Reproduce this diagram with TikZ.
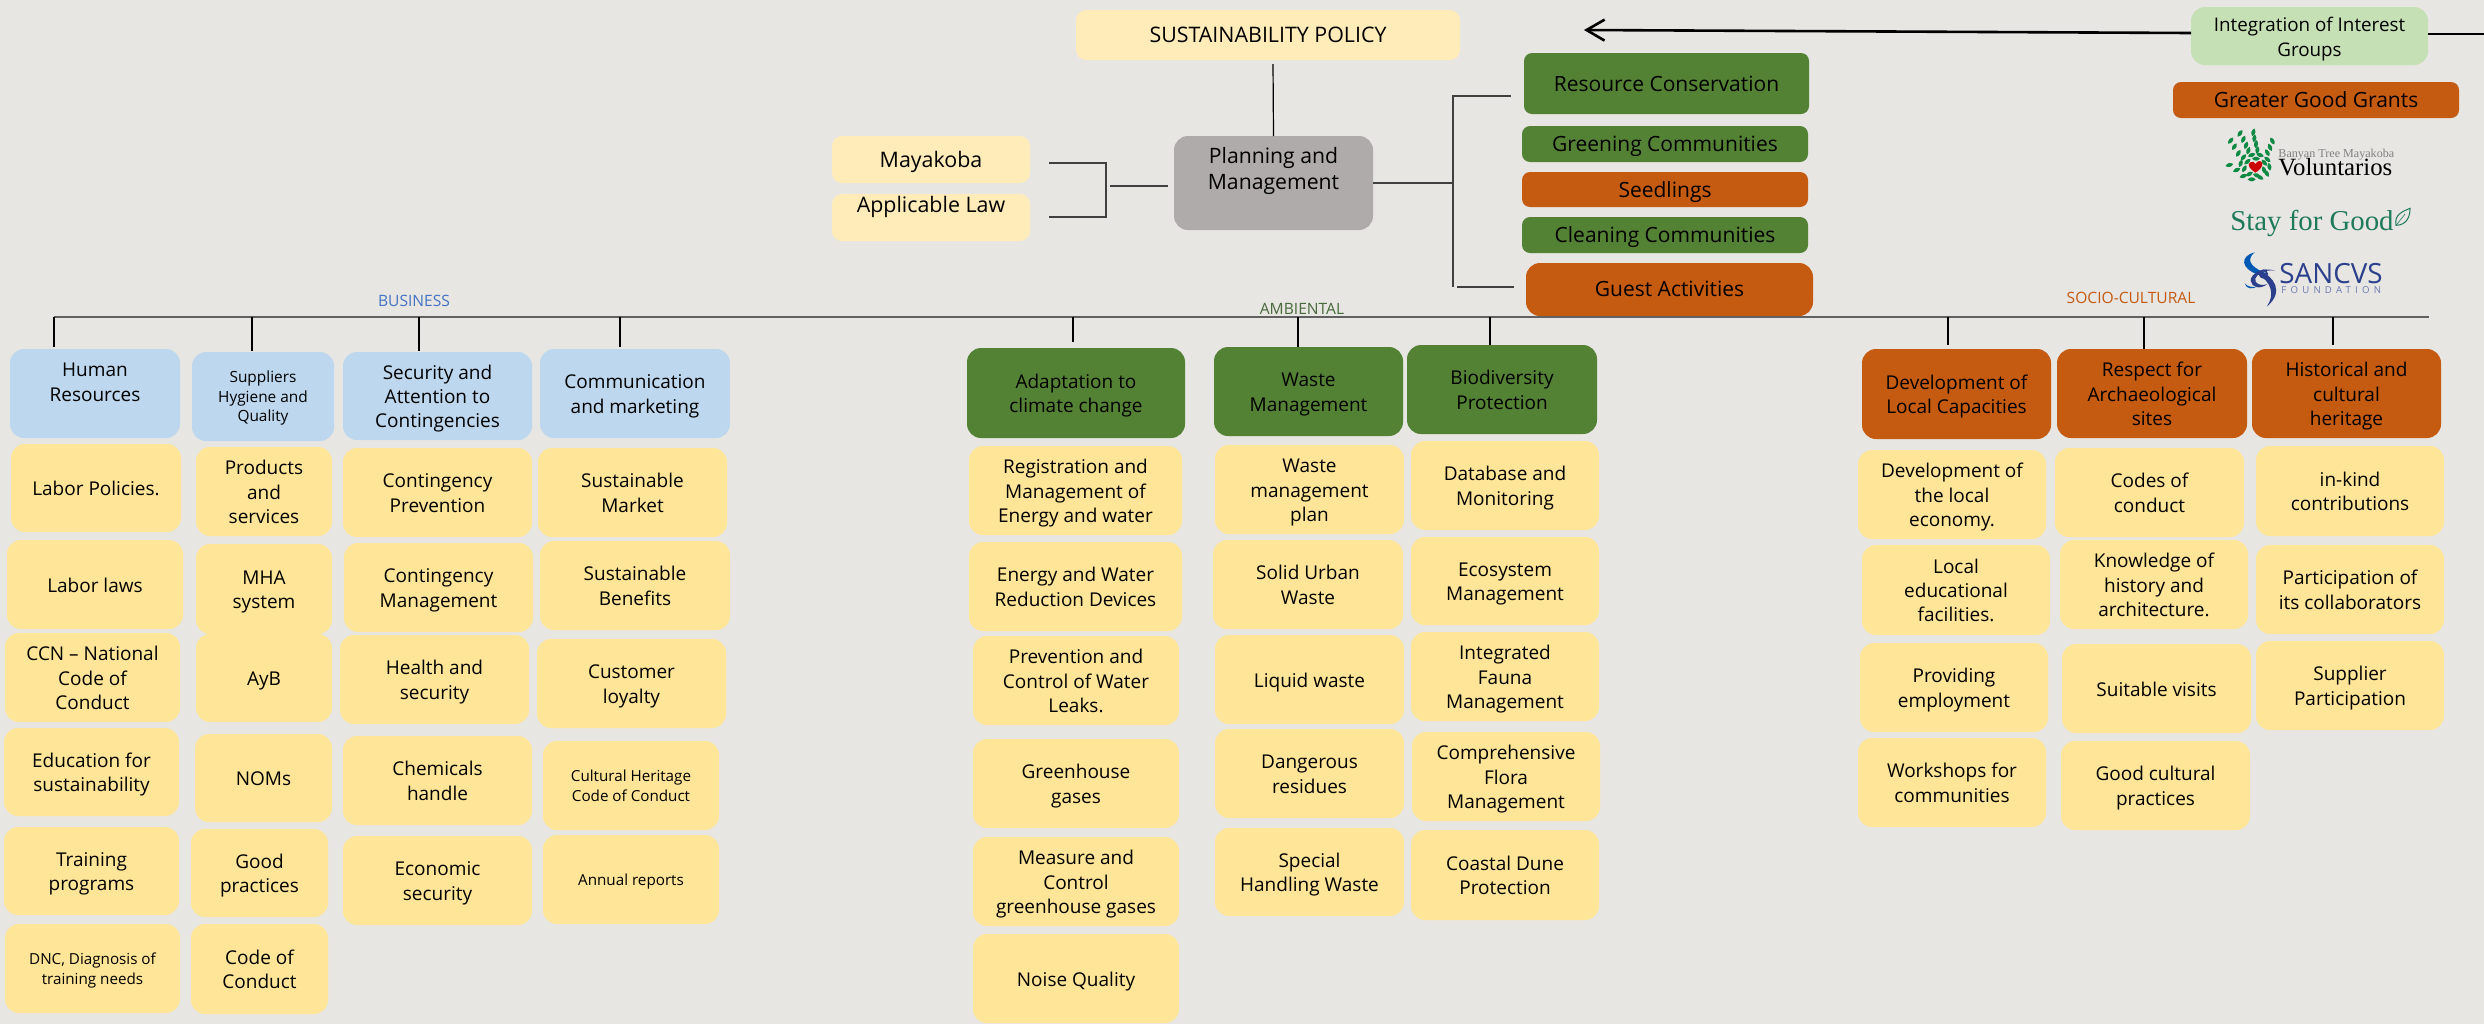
\documentclass[tikz,border=0pt]{standalone}
\usepackage{fontspec}
\setmainfont{Open Sans}
\newfontfamily\logoserif{Liberation Serif}
\usetikzlibrary{arrows.meta}
\definecolor{bgc}{HTML}{E7E6E2}
\definecolor{yel}{HTML}{FFE597}
\definecolor{pale}{HTML}{FFECB8}
\definecolor{blu}{HTML}{BDD7EE}
\definecolor{grn}{HTML}{548235}
\definecolor{org}{HTML}{C55A11}
\definecolor{gry}{HTML}{AFABAB}
\definecolor{lgr}{HTML}{C5E0B4}
\definecolor{leafc}{HTML}{0E8A45}
\definecolor{stayc}{HTML}{1F7A5C}
\definecolor{sanc}{HTML}{2B3F8C}
\definecolor{busc}{HTML}{4472C4}
\definecolor{ambc}{HTML}{46693C}
\newcommand{\rs}{0pt}
\tikzset{
 base/.style={rectangle,rounded corners=7pt,inner sep=0pt,outer sep=0pt,align=center,text=black,font=\fontsize{9.5}{12.2}\selectfont,execute at begin node={\renewcommand{\rs}{-3.6pt}}},
 yb/.style={base,fill=yel},
 ys/.style={yb,font=\fontsize{7.6}{10}\selectfont,execute at begin node={\renewcommand{\rs}{-2.8pt}}},
 bb/.style={base,fill=blu},
 gb/.style={base,fill=grn},
 ob/.style={base,fill=org},
 pb/.style={base,fill=pale,rounded corners=5pt,font=\fontsize{10.7}{13}\selectfont,execute at begin node={\renewcommand{\rs}{-4pt}}},
 topg/.style={gb,rounded corners=4pt,font=\fontsize{10.5}{13}\selectfont,execute at begin node={\renewcommand{\rs}{-4pt}}},
 topo/.style={ob,rounded corners=4pt,font=\fontsize{10.5}{13}\selectfont,execute at begin node={\renewcommand{\rs}{-4pt}}},
 thin line/.style={draw=black,line width=0.6pt},
 dark line/.style={draw=black!75,line width=0.8pt},
 main line/.style={draw=black!62,line width=1pt},
 sect/.style={inner sep=0pt,font=\fontsize{7.8}{10}\selectfont},
 logo/.style={inner sep=0pt,anchor=base west},
}
\newcommand{\bx}[7]{%
 \pgfmathsetmacro\bw{(#4-#2)*0.5}\pgfmathsetmacro\bh{(#5-#3)*0.5}%
 \node[#6,minimum width=\bw pt,minimum height=\bh pt] (#1) at ({(#2+#4)/2},{(#3+#5)/2}) {\raisebox{\rs}[0pt][0pt]{\begin{tabular}{@{}c@{}}#7\end{tabular}}};%
}
\begin{document}
\begin{tikzpicture}[x=0.5pt,y=-0.5pt]
\fill[bgc] (0,0) rectangle (2484,1024);
\useasboundingbox (0,0) rectangle (2484,1024);
% top
\bx{policy}{1076}{10}{1460}{60}{pb}{SUSTAINABILITY POLICY}
\bx{maya}{832}{136}{1030}{183}{pb}{Mayakoba}
\bx{law}{832}{194}{1030}{241}{pb}{Applicable Law\\\mbox{}}
\bx{plan}{1174}{136}{1373}{230}{base,fill=gry,font=\fontsize{10.6}{13}\selectfont}{Planning and\\Management\\\mbox{}}
\bx{res}{1524}{53}{1809}{114}{topg}{Resource Conservation}
\bx{grc}{1522}{126}{1808}{162}{topg}{Greening Communities}
\bx{see}{1522}{172}{1808}{207}{topo}{Seedlings}
\bx{cle}{1522}{217}{1808}{253}{topg}{Cleaning Communities}
\bx{gue}{1526}{263}{1813}{316}{ob,font=\fontsize{10.5}{13}\selectfont}{Guest Activities}
\bx{integ}{2191}{7}{2428}{65}{base,fill=lgr,font=\fontsize{9.4}{12.5}\selectfont}{Integration of Interest\\Groups}
\bx{grant}{2173}{82}{2459}{118}{topo}{Greater Good Grants}
% connectors top
\coordinate (tipA) at (1584,30);
\coordinate (edgeR) at (2484,34);
\coordinate (intL) at (2191,33);
\coordinate (intR) at (2428,34);
\draw[-{Straight Barb[length=9pt,width=10.5pt]},line width=1.3pt] (intL) -- (tipA);
\draw[line width=1.3pt] (intR) -- (edgeR);
\coordinate (polB) at (1273,64);
\draw[thin line] (plan.north) -- (polB);
\coordinate (brA) at (1049,163);
\coordinate (brB) at (1106,163);
\coordinate (brC) at (1106,217);
\coordinate (brD) at (1049,217);
\coordinate (brM) at (1110,186);
\coordinate (plW) at (1168,186);
\draw[dark line] (brA) -- (brB) -- (brC) -- (brD);
\draw[dark line] (brM) -- (plW);
\coordinate (spine) at (1453,183);
\coordinate (spT) at (1453,96);
\coordinate (spB) at (1453,287);
\coordinate (resW) at (1511,96);
\coordinate (gueW) at (1514,287);
\coordinate (gueS) at (1457,287);
\coordinate (plE) at (1373,183);
\draw[dark line] (plE) -- (spine);
\draw[dark line] (resW) -- (spT) -- (spB);
\draw[dark line] (gueS) -- (gueW);
% section titles
\node[sect,text=busc] (sbus) at (414,301) {BUSINESS};
\node[sect,text=ambc] (samb) at (1302,309) {AMBIENTAL};
\node[sect,text=org] (ssoc) at (2131,298) {SOCIO-CULTURAL};
% business headers
\bx{hr}{10}{349}{180}{438}{bb}{Human\\Resources\\\mbox{}}
\bx{sup}{192}{352}{334}{441}{bb,font=\fontsize{7.7}{9.8}\selectfont,execute at begin node={\renewcommand{\rs}{-2.8pt}}}{Suppliers\\Hygiene and\\Quality}
\bx{sec}{343}{352}{532}{440}{bb}{Security and\\Attention to\\Contingencies}
\bx{com}{540}{349}{730}{438}{bb}{Communication\\and marketing}
% col 1
\bx{a1}{11}{444}{181}{532}{yb}{Labor Policies.}
\bx{a2}{7}{540}{183}{629}{yb}{Labor laws}
\bx{a3}{5}{633}{180}{722}{yb}{CCN -- National\\Code of\\Conduct}
\bx{a4}{4}{728}{179}{816}{yb}{Education for\\sustainability}
\bx{a5}{4}{827}{179}{915}{yb}{Training\\programs}
\bx{a6}{5}{924}{180}{1013}{ys}{DNC, Diagnosis of\\training needs}
% col 2
\bx{b2}{196}{544}{332}{634}{yb}{MHA\\system}
\bx{b1}{196}{447}{332}{536}{yb}{Products\\and\\services}
\bx{b3}{196}{634}{332}{722}{yb}{AyB}
\bx{b4}{195}{734}{332}{822}{yb}{NOMs}
\bx{b5}{191}{829}{328}{917}{yb}{Good\\practices}
\bx{b6}{191}{924}{328}{1014}{yb}{Code of\\Conduct}
% col 3
\bx{c1}{343}{448}{532}{537}{yb}{Contingency\\Prevention}
\bx{c2}{344}{543}{533}{632}{yb}{Contingency\\Management}
\bx{c3}{340}{635}{529}{724}{yb}{Health and\\security}
\bx{c4}{343}{736}{532}{825}{yb}{Chemicals\\handle}
\bx{c5}{343}{836}{532}{925}{yb}{Economic\\security}
% col 4
\bx{d1}{538}{448}{727}{537}{yb}{Sustainable\\Market}
\bx{d2}{540}{541}{730}{630}{yb}{Sustainable\\Benefits}
\bx{d3}{537}{639}{726}{728}{yb}{Customer\\loyalty}
\bx{d4}{543}{741}{719}{830}{ys}{Cultural Heritage\\Code of Conduct}
\bx{d5}{543}{835}{719}{924}{ys}{Annual reports}
% ambiental
\bx{ada}{967}{348}{1185}{438}{gb}{Adaptation to\\climate change}
\bx{was}{1214}{347}{1403}{436}{gb}{Waste\\Management}
\bx{bio}{1407}{345}{1597}{434}{gb}{Biodiversity\\Protection}
\bx{e1}{969}{446}{1182}{535}{yb}{Registration and\\Management of\\Energy and water}
\bx{e2}{969}{542}{1182}{631}{yb}{Energy and Water\\Reduction Devices}
\bx{e3}{973}{636}{1179}{725}{yb}{Prevention and\\Control of Water\\Leaks.}
\bx{e4}{973}{739}{1179}{828}{yb}{Greenhouse\\gases}
\bx{e5}{973}{837}{1179}{926}{yb}{Measure and\\Control\\greenhouse gases}
\bx{e6}{973}{934}{1179}{1023}{yb}{Noise Quality}
\bx{f1}{1215}{445}{1404}{534}{yb}{Waste\\management\\plan}
\bx{f2}{1213}{540}{1403}{629}{yb}{Solid Urban\\Waste}
\bx{f3}{1215}{635}{1404}{724}{yb}{Liquid waste}
\bx{f4}{1215}{729}{1404}{818}{yb}{Dangerous\\residues}
\bx{f5}{1215}{828}{1404}{916}{yb}{Special\\Handling Waste}
\bx{g1}{1411}{441}{1599}{530}{yb}{Database and\\Monitoring}
\bx{g2}{1411}{537}{1599}{625}{yb}{Ecosystem\\Management}
\bx{g3}{1411}{632}{1599}{721}{yb}{Integrated\\Fauna\\Management}
\bx{g4}{1412}{732}{1600}{821}{yb}{Comprehensive\\Flora\\Management}
\bx{g5}{1411}{830}{1599}{920}{yb}{Coastal Dune\\Protection}
% socio-cultural
\bx{dev}{1862}{349}{2051}{439}{ob}{Development of\\Local Capacities}
\bx{rsp}{2057}{349}{2247}{438}{ob}{Respect for\\Archaeological\\sites}
\bx{his}{2252}{349}{2441}{438}{ob}{Historical and\\cultural\\heritage}
\bx{h1}{1858}{450}{2046}{539}{yb}{Development of\\the local\\economy.}
\bx{h2}{1862}{545}{2050}{635}{yb}{Local\\educational\\facilities.}
\bx{h3}{1860}{643}{2048}{732}{yb}{Providing\\employment}
\bx{h4}{1858}{738}{2046}{827}{yb}{Workshops for\\communities}
\bx{i1}{2055}{448}{2244}{537}{yb}{Codes of\\conduct}
\bx{i2}{2060}{540}{2248}{629}{yb}{Knowledge of\\history and\\architecture.}
\bx{i3}{2062}{644}{2251}{733}{yb}{Suitable visits}
\bx{i4}{2061}{741}{2250}{830}{yb}{Good cultural\\practices}
\bx{j1}{2256}{446}{2444}{536}{yb}{in-kind\\contributions}
\bx{j2}{2256}{545}{2444}{634}{yb}{Participation of\\its collaborators}
\bx{j3}{2256}{641}{2444}{730}{yb}{Supplier\\Participation}
% main line and drops
\coordinate (mL) at (54,317);
\coordinate (mR) at (2429,317);
\draw[main line] (mL) -- (mR);
\foreach \nm/\xx/\yy in {hr/54/347,sup/252/351,sec/419/351,com/620/347,ada/1073/342,was/1298/347,bio/1490/345,dev/1948/345,rsp/2144/349,his/2333/345}{
  \coordinate (top\nm) at (\xx,317);
  \coordinate (end\nm) at (\xx,\yy);
  \draw[thin line] (top\nm) -- (end\nm);
}
% Voluntarios logo
\begin{scope}[shift={(2210,120)},x=0.1667pt,y=-0.1667pt]
 \foreach \x/\y/\a in {62/62/50,73/80/55,85/100/60,90/40/55,100/58/65,108/76/70,115/92/70,130/37/75,133/55/80,138/72/80,142/90/85,187/63/-60,180/82/-65,172/98/-60,58/135/15,80/150/25,100/168/20,125/178/0,150/172/-30,170/160/-60,178/140/-80,172/118/-40,150/105/-20,125/105/20,100/112/50,92/130/70,112/125/40,103/146/60,138/116/0,163/128/-50,162/150/-70,140/166/-20,118/162/30}{
  \fill[leafc,shift={(\x,\y)},rotate=\a] (-12,0) .. controls (-4,-8) and (4,-8) .. (12,0) .. controls (4,8) and (-4,8) .. (-12,0) -- cycle;
 }
 \fill[red!80!black] (136,158) .. controls (120,147) and (110,135) .. (120,127) .. controls (127,122) and (134,126) .. (137,132) .. controls (140,122) and (152,120) .. (157,129) .. controls (160,140) and (146,152) .. (136,158) -- cycle;
\end{scope}
\node[logo,text=black!50,font=\logoserif\fontsize{6.05}{8}\selectfont] (banyan) at (2278,157) {Banyan Tree Mayakoba};
\node[logo,text=black,font=\logoserif\fontsize{12.4}{14}\selectfont] (volun) at (2278,175) {Voluntarios};
% Stay for Good
\node[logo,text=stayc,font=\logoserif\fontsize{14.4}{17}\selectfont] (stay) at (2230,230) {Stay for Good};
\begin{scope}[shift={(2230,200)},x=0.1667pt,y=-0.1667pt]
 \draw[stayc,line width=0.5pt] (498,76) .. controls (492,45) and (515,35) .. (540,25) .. controls (540,50) and (530,75) .. (498,76) -- cycle;
 \draw[stayc,line width=0.3pt] (498,76) -- (525,42);
 % helix
 \fill[blue!50!cyan!70!black] (74,157) .. controls (30,168) and (30,205) .. (85,224) .. controls (100,228) and (110,228) .. (115,222) .. controls (75,208) and (40,185) .. (74,157) -- cycle;
 \fill[sanc] (90,213) .. controls (130,228) and (165,275) .. (110,320) .. controls (135,285) and (125,245) .. (82,222) -- cycle;
 \fill[sanc] (135,212) .. controls (95,198) and (60,225) .. (62,242) .. controls (64,262) and (90,270) .. (112,252) .. controls (90,260) and (72,250) .. (76,235) .. controls (82,218) and (110,208) .. (135,212) -- cycle;
 \fill[blue!50!cyan!70!black] (44,250) .. controls (48,268) and (70,268) .. (80,260) .. controls (65,262) and (52,260) .. (44,250) -- cycle;
 \draw[sanc,line width=0.9pt] (100,222) circle (11);
\end{scope}
\node[logo,text=sanc,font=\fontsize{13.9}{15}\selectfont] (sanc) at (2279,283) {SANCVS};
\node[logo,text=sanc!70!white,font=\fontsize{4.8}{6}\addfontfeature{LetterSpace=44}\selectfont] (found) at (2281,293) {FOUNDATION};
\end{tikzpicture}
\end{document}
